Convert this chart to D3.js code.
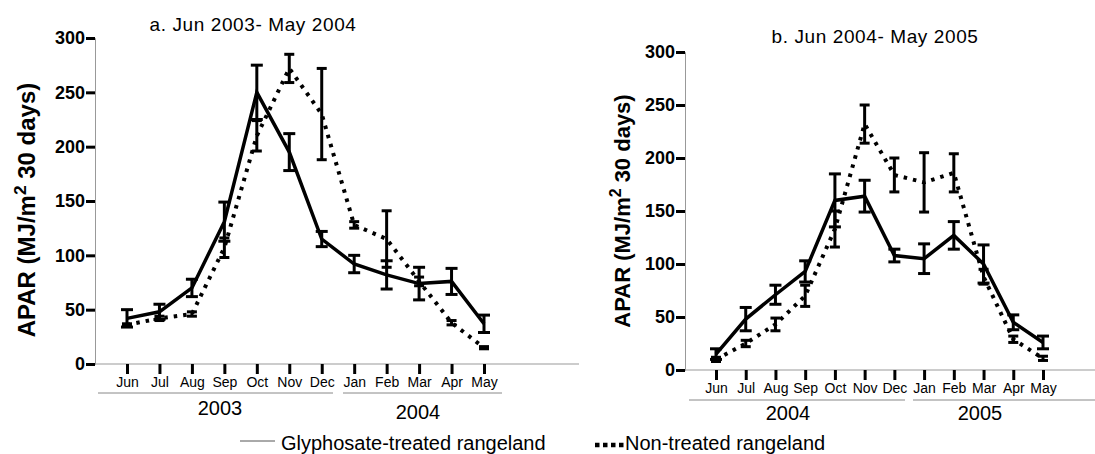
<!DOCTYPE html>
<html>
<head>
<meta charset="utf-8">
<script src="https://cdn.jsdelivr.net/npm/d3@7"></script>
<style>
  body { margin: 0; background: #fff; }
  svg { font-family: "Liberation Sans", Arial, sans-serif; }
</style>
</head>
<body>
<div id="chart"></div>
<script>
// Month labels and y ticks
const months = ['Jun','Jul','Aug','Sep','Oct','Nov','Dec','Jan','Feb','Mar','Apr','May'];
const yTicks = [0, 50, 100, 150, 200, 250, 300];

// Panel a: Jun 2003 - May 2004
const aGly = [42, 48, 70, 131, 250, 195, 115, 92, 82, 74, 76, 37];
const aGlyErr = [8, 7, 8, 18, 25, 17, 7, 8, 13, 15, 12, 8];
const aNon = [36, 42, 46, 107, 210, 272, 230, 128, 115, 76, 38, 15];
const aNonErr = [1, 2, 2, 9, 14, 13, 42, 3, 26, 4, 2, 1];

// Panel b: Jun 2004 - May 2005
const bGly = [15, 48, 71, 93, 160, 164, 108, 105, 127, 100, 45, 26];
const bGlyErr = [5, 11, 9, 10, 25, 15, 6, 14, 13, 18, 7, 6];
const bNon = [10, 25, 43, 70, 133, 232, 184, 177, 186, 88, 29, 11];
const bNonErr = [2, 3, 6, 10, 17, 18, 16, 28, 18, 7, 3, 2];

const W = 1095, H = 454;
const svg = d3.select('#chart').append('svg')
  .attr('width', W)
  .attr('height', H);

const panels = [
  {
    title: 'a. Jun 2003- May 2004', titleX: 253, titleY: 31,
    axisX: 95, y0: 364, y300: 38, firstX: 127, lastX: 484, axisEnd: 579,
    labelX: 35, labelY: 210, labelSize: 24,
    years: [{t: '2003', x1: 98, x2: 333, cx: 220, ty: 415}, {t: '2004', x1: 343, x2: 502, cx: 418, ty: 419}],
    yearLineY: 393,
    gly: aGly, glyErr: aGlyErr, non: aNon, nonErr: aNonErr
  },
  {
    title: 'b. Jun 2004- May 2005', titleX: 875, titleY: 43,
    axisX: 685, y0: 370, y300: 52, firstX: 716, lastX: 1043, axisEnd: 1095,
    labelX: 630, labelY: 211, labelSize: 22,
    years: [{t: '2004', x1: 689, x2: 905, cx: 788, ty: 420}, {t: '2005', x1: 913, x2: 1095, cx: 980, ty: 420}],
    yearLineY: 400,
    gly: bGly, glyErr: bGlyErr, non: bNon, nonErr: bNonErr
  }
];

panels.forEach(function(p){
  const g = svg.append('g');

  const x = d3.scalePoint().domain(months).range([p.firstX, p.lastX]);
  const y = d3.scaleLinear().domain([0, 300]).range([p.y0, p.y300]);

  //Title
  g.append('text')
    .attr('x', p.titleX).attr('y', p.titleY)
    .attr('text-anchor', 'middle')
    .style('font-size', '19px')
    .style('letter-spacing', '0.6px')
    .text(p.title);

  //Y axis
  const yAxis = g.append('g')
    .attr('transform', `translate(${p.axisX},0)`)
    .call(d3.axisLeft(y).tickValues(yTicks).tickSize(9).tickPadding(1));
  yAxis.select('.domain').attr('stroke', '#999').attr('stroke-width', 1);
  yAxis.selectAll('.tick line').attr('stroke', '#000').attr('stroke-width', 3);
  yAxis.selectAll('.tick text')
    .style('font-size', '18px')
    .style('font-weight', 'bold')
    .style('font-family', '"Liberation Sans", Arial, sans-serif')
    .attr('fill', '#000');

  //Y label
  const lab = g.append('text')
    .attr('transform', `translate(${p.labelX},${p.labelY}) rotate(-90)`)
    .attr('text-anchor', 'middle')
    .style('font-size', p.labelSize + 'px')
    .style('font-weight', 'bold');
  lab.append('tspan').text('APAR (MJ/m');
  lab.append('tspan').attr('dy', -9).style('font-size', (p.labelSize * 0.72) + 'px').text('2');
  lab.append('tspan').attr('dy', 9).text(' 30 days)');

  //X axis line
  g.append('line')
    .attr('x1', p.axisX).attr('x2', p.axisEnd)
    .attr('y1', p.y0).attr('y2', p.y0)
    .attr('stroke', '#999').attr('stroke-width', 1);

  //X axis ticks and labels
  const xAxis = g.append('g')
    .attr('transform', `translate(0,${p.y0})`)
    .call(d3.axisBottom(x).tickSize(10).tickPadding(3));
  xAxis.select('.domain').remove();
  xAxis.selectAll('.tick line').attr('stroke', '#000').attr('stroke-width', 3);
  xAxis.selectAll('.tick text')
    .style('font-size', '14px')
    .style('font-family', '"Liberation Sans", Arial, sans-serif')
    .attr('fill', '#000');

  //Year group lines and labels
  p.years.forEach(function(yr){
    g.append('line')
      .attr('x1', yr.x1).attr('x2', yr.x2)
      .attr('y1', p.yearLineY).attr('y2', p.yearLineY)
      .attr('stroke', '#888').attr('stroke-width', 1);
    g.append('text')
      .attr('x', yr.cx).attr('y', yr.ty)
      .attr('text-anchor', 'middle')
      .style('font-size', '20px')
      .text(yr.t);
  });

  //Series
  const series = [
    {vals: p.gly, err: p.glyErr, dash: null, cap: 12},
    {vals: p.non, err: p.nonErr, dash: '3.5,6', cap: 10}
  ];

  const line = d3.line()
    .x(function(d, i){ return x(months[i]); })
    .y(function(d){ return y(d); });

  series.forEach(function(s){
    g.append('path')
      .datum(s.vals)
      .attr('d', line)
      .attr('fill', 'none')
      .attr('stroke', '#000')
      .attr('stroke-width', s.dash ? 4 : 3.5)
      .attr('stroke-dasharray', s.dash);

    const eb = g.selectAll(null)
      .data(s.vals)
      .enter()
      .append('g');
    eb.append('line')
      .attr('x1', function(d, i){ return x(months[i]); })
      .attr('x2', function(d, i){ return x(months[i]); })
      .attr('y1', function(d, i){ return y(d - s.err[i]); })
      .attr('y2', function(d, i){ return y(d + s.err[i]); })
      .attr('stroke', '#000').attr('stroke-width', 3);
    [-1, 1].forEach(function(sign){
      eb.append('line')
        .attr('x1', function(d, i){ return x(months[i]) - s.cap / 2; })
        .attr('x2', function(d, i){ return x(months[i]) + s.cap / 2; })
        .attr('y1', function(d, i){ return y(d + sign * s.err[i]); })
        .attr('y2', function(d, i){ return y(d + sign * s.err[i]); })
        .attr('stroke', '#000').attr('stroke-width', 3);
    });
  });
});

//Legend
const legend = svg.append('g');
legend.append('line')
  .attr('x1', 240).attr('x2', 275).attr('y1', 441).attr('y2', 441)
  .attr('stroke', '#555').attr('stroke-width', 1);
legend.append('text')
  .attr('x', 281).attr('y', 450)
  .style('font-size', '20px')
  .text('Glyphosate-treated rangeland');
legend.append('line')
  .attr('x1', 595).attr('x2', 624).attr('y1', 445).attr('y2', 445)
  .attr('stroke', '#000').attr('stroke-width', 4.5)
  .attr('stroke-dasharray', '4.5,3.5');
legend.append('text')
  .attr('x', 625).attr('y', 450)
  .style('font-size', '20px')
  .text('Non-treated rangeland');
</script>
</body>
</html>
